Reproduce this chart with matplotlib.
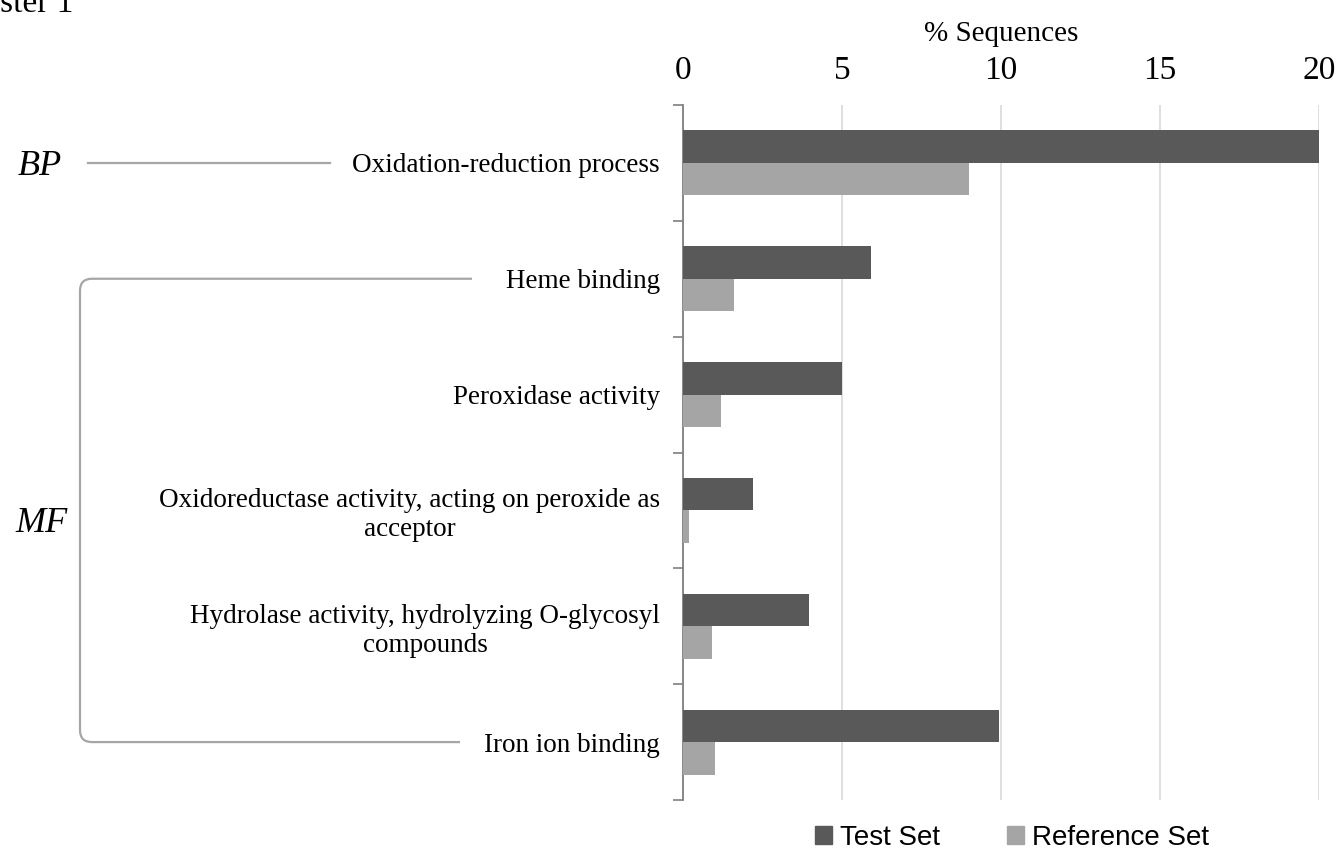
import numpy as np
import matplotlib
matplotlib.use("Agg")
import matplotlib.pyplot as plt
from matplotlib.path import Path
from matplotlib.patches import PathPatch, Patch

plt.rcParams['font.family'] = ['Liberation Serif', 'DejaVu Serif']

# data (top to bottom)
categories = [
    "Oxidation-reduction process",
    "Heme binding",
    "Peroxidase activity",
    "Oxidoreductase activity, acting on peroxide as\nacceptor",
    "Hydrolase activity, hydrolyzing O-glycosyl\ncompounds",
    "Iron ion binding",
]
test_set = [20.1, 5.9, 5.0, 2.2, 3.95, 9.95]
reference_set = [9.0, 1.6, 1.2, 0.2, 0.92, 1.0]
x_ticks = [0, 5, 10, 15, 20]

test_color = '#595959'
ref_color = '#a5a5a5'
line_color = '#a6a6a6'

W, H = 1336, 856
fig = plt.figure(figsize=(W / 100, H / 100), dpi=100)
ax = fig.add_axes([683 / W, 1 - 800 / H, (1319 - 683) / W, (800 - 105) / H])

y = np.arange(len(categories))
bh = 0.28
ax.barh(y - bh / 2, test_set, height=bh, color=test_color, label='Test Set', zorder=3)
ax.barh(y + bh / 2, reference_set, height=bh, color=ref_color, label='Reference Set', zorder=3)

ax.set_xlim(0, 20)
ax.set_ylim(len(categories) - 0.5, -0.5)

# x axis on top
ax.xaxis.tick_top()
ax.xaxis.set_label_position('top')
ax.set_xticks(x_ticks)
ax.set_xticklabels([str(t) for t in x_ticks], fontsize=24)
ax.tick_params(axis='x', length=0, pad=14)
ax.set_xlabel('% Sequences', fontsize=21, labelpad=10)
ax.grid(axis='x', color='#d9d9d9', linewidth=1.2, zorder=0)

# y axis
ax.set_yticks(y)
ax.set_yticklabels(categories, fontsize=19.5, multialignment='center')
ax.tick_params(axis='y', which='major', length=0, pad=16.5)
ax.set_yticks(np.arange(len(categories) + 1) - 0.5, minor=True)
ax.tick_params(axis='y', which='minor', length=7, width=1.2, color='#7f7f7f')

for s in ['top', 'right', 'bottom']:
    ax.spines[s].set_visible(False)
ax.spines['left'].set_color('#7f7f7f')
ax.spines['left'].set_linewidth(1.3)


def to_fig(x_px, y_data):
    # x in pixels, y from data coordinate of the axes
    yp = ax.transData.transform((0, y_data))[1]
    return fig.transFigure.inverted().transform((x_px, yp))


# BP annotation
p0 = to_fig(88, 0)
p1 = to_fig(330, 0)
fig.add_artist(plt.Line2D([p0[0], p1[0]], [p0[1], p1[1]], color=line_color, lw=1.6,
                          transform=fig.transFigure))
fig.text(18 / W, p0[1], 'BP', fontsize=26, style='italic', va='center_baseline', ha='left')

# MF bracket
top_y = ax.transData.transform((0, 1))[1]
bot_y = ax.transData.transform((0, 5))[1]
xl, r = 80, 12
verts = [(472, top_y), (xl + r, top_y), (xl, top_y), (xl, top_y - r),
         (xl, bot_y + r), (xl, bot_y), (xl + r, bot_y), (460, bot_y)]
codes = [Path.MOVETO, Path.LINETO, Path.CURVE3, Path.CURVE3,
         Path.LINETO, Path.CURVE3, Path.CURVE3, Path.LINETO]
verts = fig.transFigure.inverted().transform(verts)
fig.add_artist(PathPatch(Path(verts, codes), fill=False, edgecolor=line_color, lw=1.6,
                         transform=fig.transFigure))
fig.text(15 / W, 1 - 520 / H, 'MF', fontsize=26, style='italic', va='center_baseline', ha='left')

# cropped title at the top-left
fig.text(73 / W, 1 - 12 / H, 'Cluster 1', fontsize=24, ha='right', va='baseline')

# legend
handles = [Patch(color=test_color, label='Test Set'),
           Patch(color=ref_color, label='Reference Set')]
fig.legend(handles=handles, loc='center', bbox_to_anchor=(1012 / W, 1 - 838 / H),
           ncol=2, frameon=False, prop={'family': 'Liberation Sans', 'size': 20},
           handlelength=0.6, handleheight=0.6, handletextpad=0.3, columnspacing=2.4)

fig.savefig('out.png', dpi=100)
